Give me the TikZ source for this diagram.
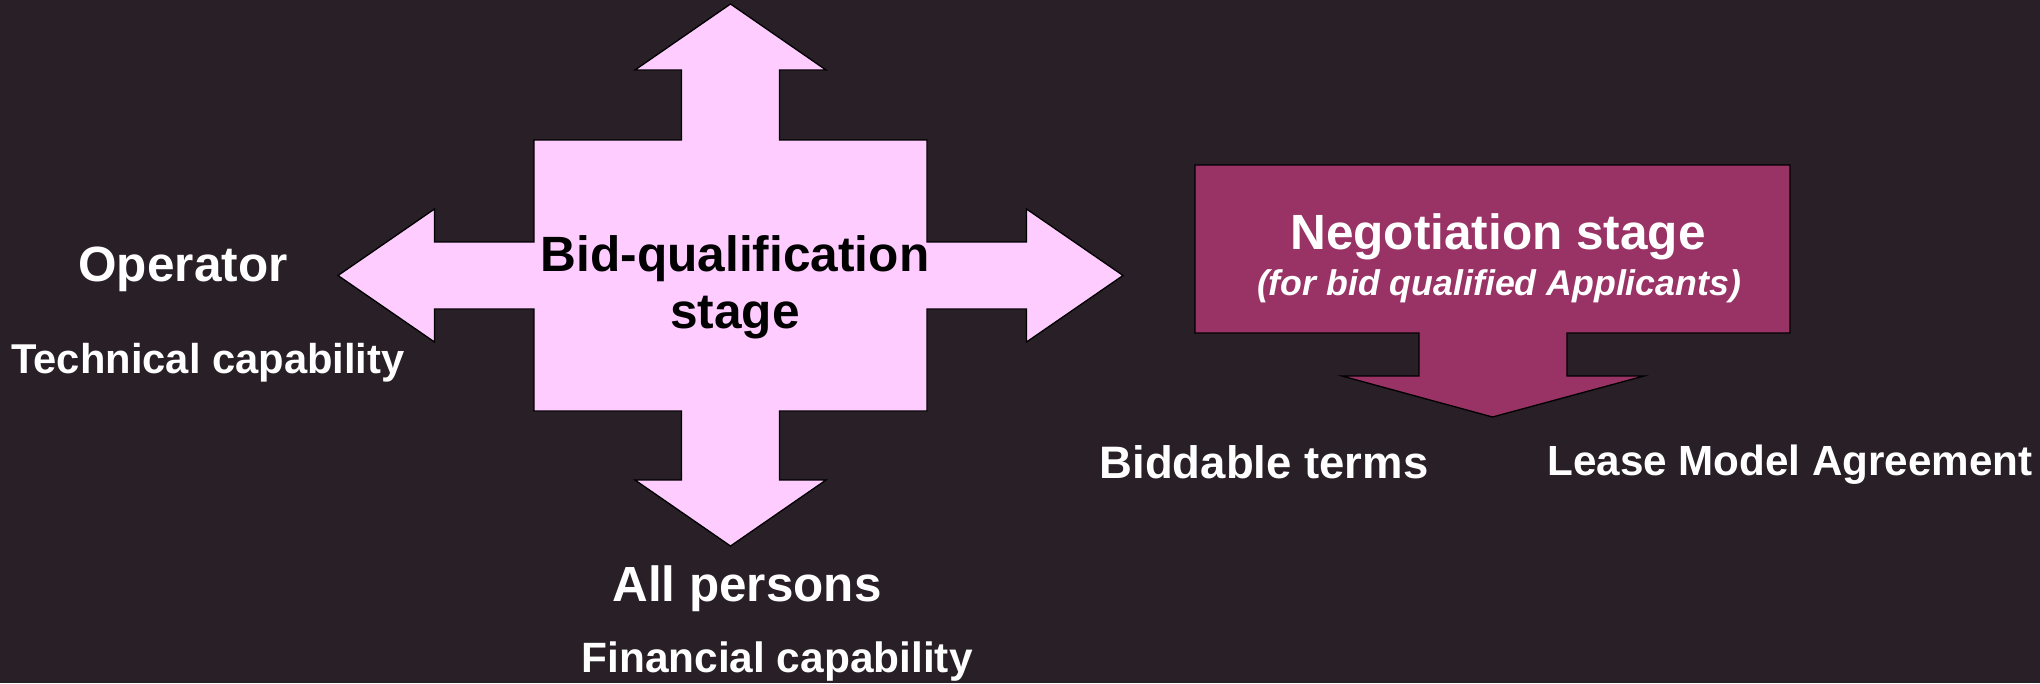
\documentclass[tikz,border=0pt]{standalone}
\usepackage{fontspec}
\setmainfont{Liberation Sans}
\definecolor{bgc}{RGB}{40,31,39}
\definecolor{pinkfill}{RGB}{255,204,255}
\definecolor{negfill}{RGB}{153,51,102}
\begin{document}
\begin{tikzpicture}[x=1pt,y=-1pt,
  lbl/.style={inner sep=0pt, anchor=base, text=white},
  shp/.style={draw=black, line width=1.3pt, line join=miter}]
\fill[bgc] (0,0) rectangle (2040,683);
\useasboundingbox (0,0) rectangle (2040,683);
% cross-shaped four-way arrow
\path[shp, fill=pinkfill]
  (730.5,4) -- (826,70) -- (779.5,70) -- (779.5,140) -- (927,140) -- (927,242)
  -- (1026.5,242) -- (1026.5,209) -- (1123,275.5) -- (1026.5,342) -- (1026.5,309)
  -- (927,309) -- (927,411) -- (779.5,411) -- (779.5,480) -- (826,480)
  -- (730.5,546) -- (635,480) -- (681.5,480) -- (681.5,411) -- (534,411)
  -- (534,309) -- (434.5,309) -- (434.5,342) -- (338,275.5) -- (434.5,209)
  -- (434.5,242) -- (534,242) -- (534,140) -- (681.5,140) -- (681.5,70)
  -- (635,70) -- cycle;
% negotiation down arrow callout
\path[shp, fill=negfill]
  (1195,165) -- (1790,165) -- (1790,333) -- (1567,333) -- (1567,376)
  -- (1644,376) -- (1492.5,417) -- (1342,376) -- (1419,376) -- (1419,333)
  -- (1195,333) -- cycle;
% texts
\node[lbl, text=black, font=\bfseries\fontsize{49.6}{57}\selectfont] (bq1) at (735,271) {Bid-qualification};
\node[lbl, text=black, font=\bfseries\fontsize{49.6}{57}\selectfont] (bq2) at (735,328) {stage};
\node[lbl, font=\bfseries\fontsize{49.5}{57}\selectfont] (neg1) at (1498,249) {Negotiation stage};
\node[lbl, font=\bfseries\itshape\fontsize{35.7}{42}\selectfont] (neg2) at (1499,295) {(for bid qualified Applicants)};
\node[lbl, font=\bfseries\fontsize{49.5}{57}\selectfont] (op) at (183,281) {Operator};
\node[lbl, font=\bfseries\fontsize{41.7}{48}\selectfont] (tech) at (208,373) {Technical capability};
\node[lbl, font=\bfseries\fontsize{49.4}{57}\selectfont] (allp) at (747,601) {All persons};
\node[lbl, font=\bfseries\fontsize{42.4}{48}\selectfont] (fin) at (777,672) {Financial capability};
\node[lbl, font=\bfseries\fontsize{45.5}{52}\selectfont] (bid) at (1264,478) {Biddable terms};
\node[lbl, font=\bfseries\fontsize{42.2}{48}\selectfont] (lease) at (1790,475) {Lease Model Agreement};
\end{tikzpicture}
\end{document}
